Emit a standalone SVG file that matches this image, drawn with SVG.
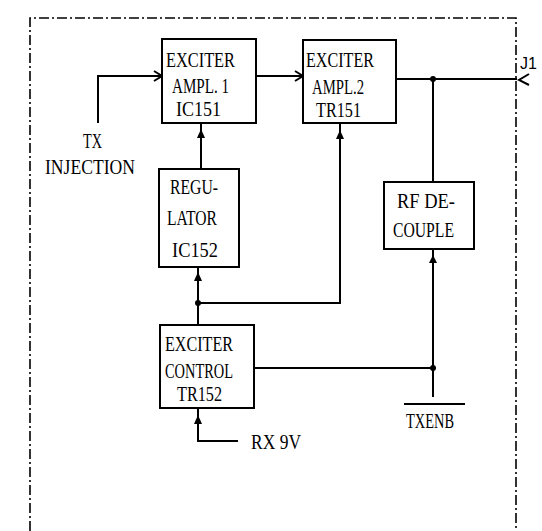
<svg xmlns="http://www.w3.org/2000/svg" width="542" height="531" viewBox="0 0 542 531">
<style>
.box{fill:#fff;stroke:#000;stroke-width:2}
.ln{fill:none;stroke:#000;stroke-width:2}
.bd{fill:none;stroke:#000;stroke-width:1.6;stroke-dasharray:10 3 2 3}
.ah{fill:#000}
.dot{fill:#000}
.t{font-family:"Liberation Serif",serif;font-size:22px;fill:#000}
.s{font-family:"Liberation Sans",Arial,sans-serif;font-size:16px;fill:#000}
</style>
<rect width="542" height="531" fill="#fff"/>
<g id="border">
<path class="bd" d="M30,531 V18 H516 V531"/>
</g>
<g id="connectors">
<path class="ln" d="M98,123 V76 H162"/>
<path class="ln" d="M154,71 L162,76 L154,81"/>
<path class="ln" d="M256,76 H303"/>
<path class="ln" d="M295,71 L303,76 L295,81"/>
<path class="ln" d="M396,79 H517"/>
<path class="ln" d="M529,74 L519,80 L529,85"/>
<path class="ln" d="M433,79 V182"/>
<path class="ln" d="M201,169 V123"/>
<polygon class="ah" points="201,129 197,138 205,138"/>
<path class="ln" d="M198,325 V267"/>
<polygon class="ah" points="198,272 194,281 202,281"/>
<path class="ln" d="M198,303 H340 V123"/>
<polygon class="ah" points="340,130 336,139 344,139"/>
<path class="ln" d="M433,397 V249"/>
<polygon class="ah" points="433,255 429,263 437,263"/>
<path class="ln" d="M254,368 H433"/>
<path class="ln" d="M198,408 V441 H238"/>
<polygon class="ah" points="198,415 194,424 202,424"/>
<path class="ln" d="M404,404 H465"/>
<circle class="dot" cx="433" cy="79" r="3"/>
<circle class="dot" cx="198" cy="303" r="3"/>
<circle class="dot" cx="433" cy="368" r="3"/>
</g>
<g id="exciter-ampl1">
<rect class="box" x="162" y="39" width="94" height="84"/>
<text class="t" x="166" y="67" textLength="69" lengthAdjust="spacingAndGlyphs">EXCITER</text>
<text class="t" x="172" y="93" textLength="57" lengthAdjust="spacingAndGlyphs">AMPL. 1</text>
<text class="t" x="176" y="116" textLength="45" lengthAdjust="spacingAndGlyphs">IC151</text>
</g>
<g id="exciter-ampl2">
<rect class="box" x="303" y="40" width="93" height="83"/>
<text class="t" x="306" y="67" textLength="68" lengthAdjust="spacingAndGlyphs">EXCITER</text>
<text class="t" x="312" y="94" textLength="52" lengthAdjust="spacingAndGlyphs">AMPL.2</text>
<text class="t" x="316" y="117" textLength="45" lengthAdjust="spacingAndGlyphs">TR151</text>
</g>
<g id="regulator">
<rect class="box" x="159" y="169" width="80" height="98"/>
<text class="t" x="170" y="194" textLength="48" lengthAdjust="spacingAndGlyphs">REGU-</text>
<text class="t" x="167" y="225" textLength="50" lengthAdjust="spacingAndGlyphs">LATOR</text>
<text class="t" x="172" y="257" textLength="46" lengthAdjust="spacingAndGlyphs">IC152</text>
</g>
<g id="rf-decouple">
<rect class="box" x="384" y="182" width="90" height="67"/>
<text class="t" x="397" y="208" textLength="58" lengthAdjust="spacingAndGlyphs">RF DE-</text>
<text class="t" x="393" y="237" textLength="61" lengthAdjust="spacingAndGlyphs">COUPLE</text>
</g>
<g id="exciter-control">
<rect class="box" x="160" y="325" width="94" height="83"/>
<text class="t" x="165" y="351" textLength="68" lengthAdjust="spacingAndGlyphs">EXCITER</text>
<text class="t" x="165" y="378" textLength="68" lengthAdjust="spacingAndGlyphs">CONTROL</text>
<text class="t" x="177" y="401" textLength="45" lengthAdjust="spacingAndGlyphs">TR152</text>
</g>
<g id="tx-injection">
<text class="t" x="83" y="148" textLength="19" lengthAdjust="spacingAndGlyphs">TX</text>
<text class="t" x="45" y="174" textLength="90" lengthAdjust="spacingAndGlyphs">INJECTION</text>
</g>
<g id="rx9v">
<text class="t" x="251" y="449" textLength="50" lengthAdjust="spacingAndGlyphs">RX 9V</text>
</g>
<g id="txenb">
<text class="t" x="406" y="428" textLength="48" lengthAdjust="spacingAndGlyphs">TXENB</text>
</g>
<g id="j1">
<text class="s" x="520" y="69">J1</text>
</g>
</svg>
